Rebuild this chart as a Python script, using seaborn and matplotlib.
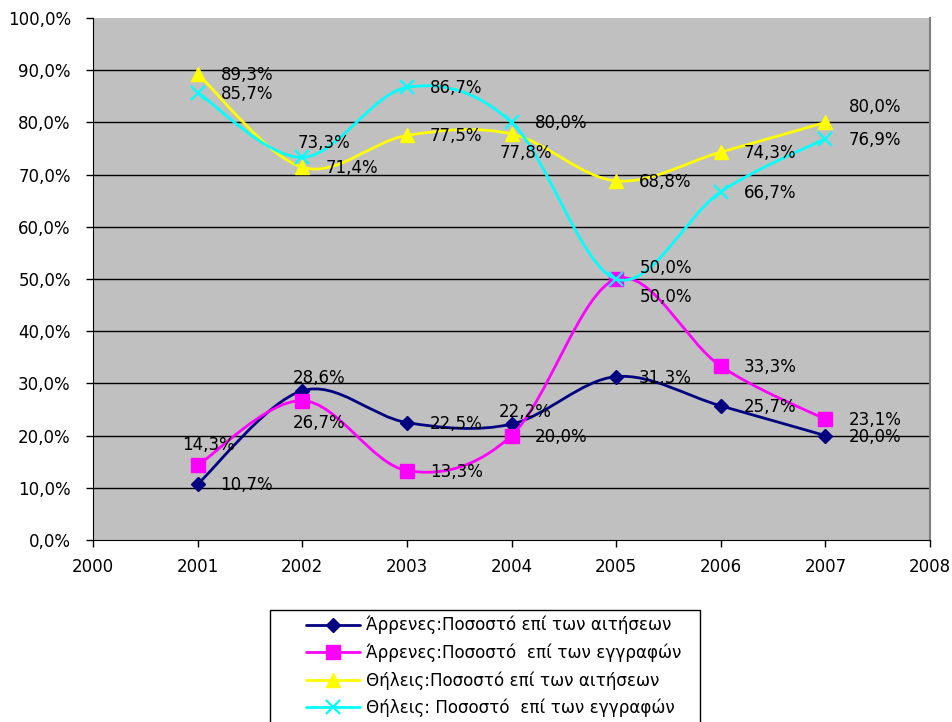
import numpy as np
import matplotlib
matplotlib.use("Agg")
import matplotlib.pyplot as plt
from matplotlib.path import Path
from matplotlib.patches import PathPatch, Rectangle
from matplotlib.lines import Line2D
from matplotlib.ticker import FuncFormatter, MultipleLocator
import seaborn as sns

# data
years = [2001, 2002, 2003, 2004, 2005, 2006, 2007]
male_apps = [10.7, 28.6, 22.5, 22.2, 31.3, 25.7, 20.0]
male_enrol = [14.3, 26.7, 13.3, 20.0, 50.0, 33.3, 23.1]
female_apps = [89.3, 71.4, 77.5, 77.8, 68.8, 74.3, 80.0]
female_enrol = [85.7, 73.3, 86.7, 80.0, 50.0, 66.7, 76.9]
names = ["Άρρενες:Ποσοστό επί των αιτήσεων",
         "Άρρενες:Ποσοστό  επί των εγγραφών",
         "Θήλεις:Ποσοστό επί των αιτήσεων",
         "Θήλεις: Ποσοστό  επί των εγγραφών"]

series = [
    (male_apps, "#000080", "D", 7.5),
    (male_enrol, "#FF00FF", "s", 10),
    (female_apps, "#FFFF00", "^", 10),
    (female_enrol, "#00FFFF", "x", 10),
]

# label offsets in pixels (dx right, dy down) from the point; default is right of point
default_off = (23, 1)
label_off = {
    (0, 1): (-10, -13), (0, 3): (-13, -12),
    (1, 0): (-16, -20), (1, 1): (-9, 22), (1, 4): (24, 18),
    (2, 3): (-12, 19), (2, 6): (24, -15),
    (3, 1): (-5, -14), (3, 4): (24, -11),
}


def smooth_path(xs, ys):
    pts = np.column_stack([xs, ys]).astype(float)
    n = len(pts)
    verts = [pts[0]]
    codes = [Path.MOVETO]
    for i in range(n - 1):
        p0 = pts[i - 1] if i > 0 else pts[i]
        p1 = pts[i]
        p2 = pts[i + 1]
        p3 = pts[i + 2] if i + 2 < n else pts[i + 1]
        verts += [p1 + (p2 - p0) / 6, p2 - (p3 - p1) / 6, p2]
        codes += [Path.CURVE4] * 3
    return Path(verts, codes)


def pct(v, pos=None):
    return f"{v:.1f}%".replace(".", ",")


sns.set_style("white")
plt.rcParams["font.family"] = ["DejaVu Sans"]

fig = plt.figure(figsize=(9.52, 7.22), dpi=100)
ax = fig.add_axes([93 / 952, 1 - 540 / 722, 837 / 952, 522 / 722])
ax.set_facecolor("#C0C0C0")

for y in range(10, 100, 10):
    ax.axhline(y, color="black", lw=1, zorder=1)

handles = []
for k, (vals, color, marker, ms) in enumerate(series):
    ax.add_patch(PathPatch(smooth_path(years, vals), fill=False, ec=color,
                           lw=2, zorder=2 + k))
    mew = 1.6 if marker == "x" else 1
    sns.lineplot(x=years, y=vals, color=color, marker=marker, markersize=ms,
                 markeredgecolor=color, markeredgewidth=mew, linestyle="none",
                 ax=ax, zorder=2.5 + k)
    handles.append(Line2D([], [], color=color, lw=2, marker=marker,
                          markersize=ms, markeredgecolor=color,
                          markeredgewidth=mew))

for k, (vals, color, marker, ms) in enumerate(series):
    for i, (x, v) in enumerate(zip(years, vals)):
        dx, dy = label_off.get((k, i), default_off)
        ax.annotate(pct(v), (x, v), xytext=(dx, -dy), textcoords="offset pixels",
                    ha="left", va="center", fontsize=12, color="black", zorder=10)

ax.set_xlim(2000, 2008)
ax.set_ylim(0, 100)
ax.xaxis.set_major_locator(MultipleLocator(1))
ax.yaxis.set_major_locator(MultipleLocator(10))
ax.yaxis.set_major_formatter(FuncFormatter(pct))
ax.tick_params(axis="both", labelsize=12, length=5, width=1, color="black",
               labelcolor="black", direction="out", left=True, bottom=True)
ax.tick_params(axis="x", pad=8)
ax.tick_params(axis="y", pad=11)
ax.set_xlabel("")
ax.set_ylabel("")
ax.spines["top"].set_visible(False)
ax.spines["right"].set_color("#808080")
ax.spines["right"].set_linewidth(1.5)
ax.spines["left"].set_color("black")
ax.spines["bottom"].set_color("black")

fig.add_artist(Rectangle((270 / 952, -0.01), 430 / 952, 112 / 722 + 0.01,
                         transform=fig.transFigure, fill=False, ec="black", lw=1))
fig.legend(handles, names, loc="upper left", bbox_to_anchor=(306 / 952, 1 - 616 / 722),
           frameon=False, fontsize=12.1, handlelength=3.2, handletextpad=0.35,
           labelspacing=0.54, borderpad=0, borderaxespad=0, labelcolor="black")

fig.savefig("out.png", dpi=100)
